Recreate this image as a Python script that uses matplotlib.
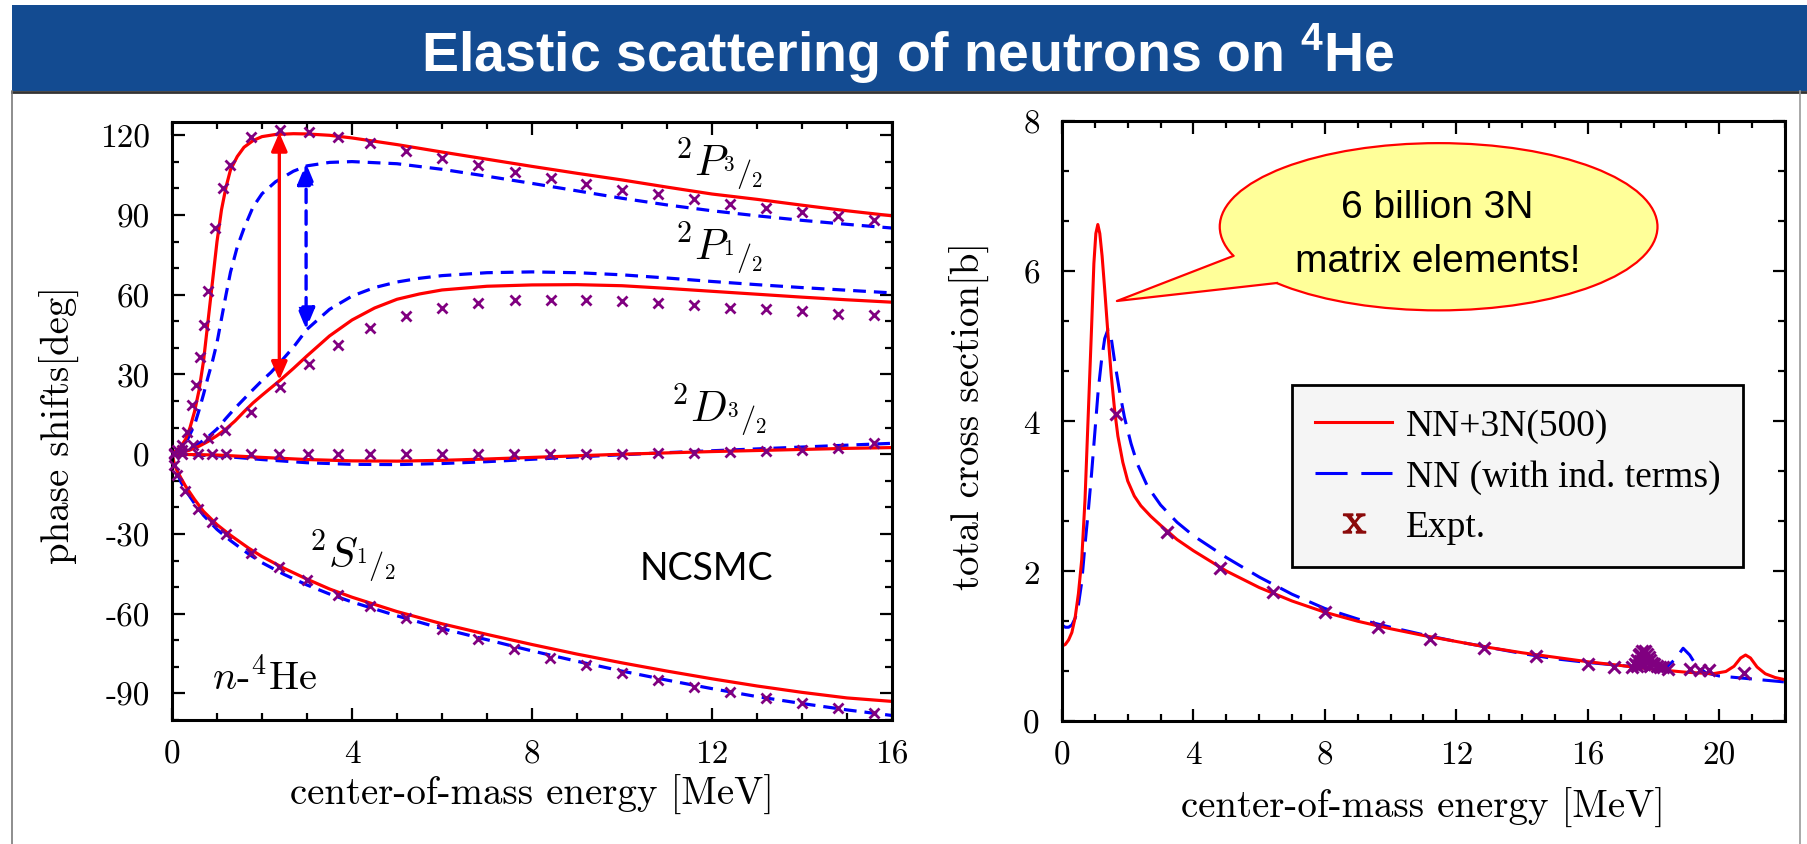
import matplotlib
matplotlib.use("Agg")
import matplotlib.pyplot as plt
from matplotlib.patches import Ellipse, Polygon, Rectangle
from matplotlib.lines import Line2D
from matplotlib.ticker import MultipleLocator, AutoMinorLocator

plt.rcParams["font.family"] = "cmr10"
plt.rcParams["mathtext.fontset"] = "cm"
plt.rcParams["mathtext.rm"] = "Liberation Sans:bold"
plt.rcParams["axes.unicode_minus"] = False
plt.rcParams["axes.formatter.use_mathtext"] = False

# ---------------- left panel: phase shifts [deg] ----------------
E_p32 = [0, 0.2, 0.3, 0.4, 0.5, 0.6, 0.7, 0.8, 0.9, 1.0, 1.1, 1.2, 1.3, 1.45, 1.6, 1.8,
         2.0, 2.3, 2.7, 3.0, 3.5, 4.0, 5, 6, 7, 8, 9, 10, 11, 12, 13, 14, 15, 16]
p32_3n = [0, 3, 5.5, 10, 16, 24, 35, 50, 65, 80, 92, 100.5, 107, 112, 115.5, 118,
          119.5, 120.3, 120.6, 120.5, 120, 119, 116.5, 113.7, 111, 108.3, 105.7, 103.2,
          100.5, 97.9, 95.9, 93.7, 91.6, 89.7]
p32_nn = [0, 2.5, 4, 7.5, 11, 16.5, 22.5, 29, 35, 42, 51, 60, 68.5, 78, 85, 93,
          98, 102.5, 106.5, 108.5, 109.8, 110.1, 109.3, 107.2, 104.6, 101.9, 99.1, 96.3,
          93.8, 91.6, 89.7, 88, 86.5, 85.1]

E_p12 = [0, 0.2, 0.4, 0.6, 0.8, 1.0, 1.2, 1.4, 1.6, 1.8, 2.0, 2.2, 2.4, 2.7, 3.0, 3.5,
         4.0, 4.5, 5.0, 5.5, 6.0, 7, 8, 9, 10, 11, 12, 13, 14, 15, 16]
p12_3n = [0, 0.6, 1.6, 3, 4.8, 7, 9.5, 12.5, 16, 19.3, 22.2, 25, 27.8, 32.3, 37, 44.5,
          50.5, 55, 58.3, 60.3, 61.8, 63.2, 63.7, 63.8, 63.4, 62.4, 61.3, 60.2, 59.1, 58.1, 57.2]
p12_nn = [0, 1, 2.3, 4, 6.5, 9.5, 13.5, 17.3, 20.8, 24.3, 27.7, 30.8, 34.5, 40.3, 47, 54.5,
          59.5, 62.7, 64.8, 66.2, 67.2, 68.3, 68.6, 68.3, 67.5, 66.3, 65, 63.8, 62.7, 61.7, 60.7]

E_d32 = [0, 1, 2, 3, 4, 5, 6, 7, 8, 9, 10, 11, 12, 13, 14, 15, 16]
d32_3n = [0, -0.3, -1.2, -2.0, -2.5, -2.6, -2.3, -1.8, -1.2, -0.6, 0, 0.5, 1.0, 1.4, 1.8, 2.2, 2.5]
d32_nn = [0, -0.6, -2.0, -3.2, -3.8, -3.9, -3.5, -2.8, -1.9, -1.0, -0.2, 0.6, 1.3, 2.0, 2.7, 3.4, 4.1]

E_s12 = [0, 0.05, 0.1, 0.2, 0.3, 0.5, 0.7, 1.0, 1.3, 1.7, 2.0, 2.5, 3.0, 3.5, 4.0,
         5, 6, 7, 8, 9, 10, 11, 12, 13, 14, 15, 16]
s12_3n = [0, -3.5, -5.8, -9, -12, -17, -21.5, -26.5, -30.5, -35.3, -38.5, -43, -47, -50.7,
          -53.8, -59.2, -63.8, -67.8, -71.6, -75.2, -78.5, -81.6, -84.5, -87.2, -89.6, -91.7, -93]
s12_nn = [0, -4, -6.5, -10.5, -13.5, -18.5, -23, -28.3, -32.5, -37.5, -40.8, -45.3, -49.2,
          -52.6, -55.6, -60.8, -65.6, -69.8, -74, -77.9, -81.6, -85, -88.2, -91.2, -93.8,
          -96.2, -98.3]

# phase-shift analysis points
xp32_E = [0.05, 0.12, 0.22, 0.33, 0.44, 0.54, 0.63, 0.72, 0.79, 0.96, 1.13, 1.28, 1.76, 2.41,
          3.04, 3.68, 4.41, 5.21, 6.0, 6.8, 7.63, 8.42, 9.2, 10.0, 10.8, 11.6, 12.4, 13.2,
          14.0, 14.8, 15.6]
xp32 = [0.5, 1.5, 3.5, 8.5, 18.5, 26, 36.6, 48.5, 61.6, 85, 100, 109, 119.5, 122, 121.4,
        119.4, 117, 114, 111.4, 108.8, 106, 104, 101.6, 99.5, 97.9, 96, 94.1, 92.5, 91,
        89.5, 88.25]
xp12_E = [0.23, 0.47, 0.8, 1.17, 1.76, 2.41, 3.04, 3.68, 4.41, 5.21, 6.0, 6.8, 7.63, 8.42,
          9.2, 10.0, 10.8, 11.6, 12.4, 13.2, 14.0, 14.8, 15.6]
xp12 = [1.5, 3.5, 6, 9.1, 16, 25.4, 34, 41, 47.5, 52, 55, 57, 58, 58, 58, 57.6, 56.9, 56,
        55.1, 54.5, 53.7, 52.9, 52.2]
xd32_E = [0.05, 0.23, 0.57, 0.9, 1.19, 1.75, 2.38, 3.03, 3.68, 4.41, 5.2, 6.0, 6.79, 7.6,
          8.4, 9.2, 10.0, 10.8, 11.6, 12.4, 13.2, 14.0, 14.8, 15.6]
xd32 = [0, 0, 0, 0, 0, 0, 0, 0, 0, 0, 0, 0, 0, 0, 0, 0, 0.2, 0.4, 0.6, 0.9, 1.2, 1.6, 2.4, 4.1]
xs12_E = [0.05, 0.11, 0.28, 0.57, 0.9, 1.19, 1.75, 2.38, 3.0, 3.68, 4.4, 5.2, 6.0, 6.8, 7.6,
          8.4, 9.2, 10.0, 10.8, 11.6, 12.4, 13.2, 14.0, 14.8, 15.6]
xs12 = [-4, -8, -13.75, -20.6, -25.6, -30, -37, -42.5, -47.5, -53, -57, -61.6, -65.6, -69.4,
        -73.4, -76.6, -79.4, -82.5, -85, -87.5, -89.6, -91.9, -93.75, -95.6, -97.25]

# ---------------- right panel: total cross section [b] ----------------
E_tot_3n = [0, 0.1, 0.2, 0.3, 0.4, 0.5, 0.6, 0.7, 0.8, 0.9, 0.97, 1.03, 1.09, 1.15, 1.22,
            1.3, 1.4, 1.5, 1.6, 1.7, 1.85, 2.0, 2.2, 2.4, 2.7, 3.0, 3.5, 4.0, 5, 6, 7, 8, 9,
            10, 11, 12, 13, 14, 15, 16, 17, 18, 19, 19.8, 20.2, 20.45, 20.65, 20.8, 20.95,
            21.15, 21.4, 21.7, 22]
tot_3n = [1.0, 1.02, 1.08, 1.18, 1.38, 1.7, 2.15, 2.95, 4.1, 5.25, 6.1, 6.5, 6.62, 6.5, 6.2,
          5.75, 5.15, 4.6, 4.15, 3.8, 3.45, 3.2, 3.0, 2.87, 2.73, 2.61, 2.42, 2.27, 2.0, 1.78,
          1.6, 1.45, 1.33, 1.23, 1.14, 1.06, 0.98, 0.91, 0.85, 0.79, 0.74, 0.69, 0.65, 0.63,
          0.66, 0.73, 0.84, 0.88, 0.84, 0.72, 0.63, 0.58, 0.55]
E_tot_nn = [0, 0.1, 0.2, 0.3, 0.4, 0.5, 0.6, 0.7, 0.8, 0.9, 1.0, 1.1, 1.2, 1.3, 1.4, 1.5,
            1.6, 1.75, 1.9, 2.1, 2.3, 2.6, 3.0, 3.5, 4.0, 5, 6, 7, 8, 9, 10, 11, 12, 13, 14,
            15, 16, 17, 18, 18.4, 18.65, 18.9, 19.1, 19.3, 19.6, 20, 21, 22]
tot_nn = [1.28, 1.25, 1.25, 1.28, 1.37, 1.55, 1.85, 2.35, 2.8, 3.3, 3.85, 4.4, 4.8, 5.1, 5.22,
          5.1, 4.8, 4.4, 4.05, 3.7, 3.42, 3.13, 2.88, 2.65, 2.47, 2.18, 1.92, 1.69, 1.5, 1.36,
          1.25, 1.15, 1.06, 0.98, 0.9, 0.83, 0.78, 0.74, 0.70, 0.72, 0.82, 0.97, 0.88, 0.74,
          0.64, 0.6, 0.56, 0.52]
expt_E = [1.63, 3.2, 4.8, 6.42, 8.0, 9.63, 11.2, 12.83, 14.42, 16.0, 16.8,
          17.35, 17.45, 17.5, 17.55, 17.6, 17.65, 17.7, 17.75, 17.8, 17.85, 17.9, 17.95, 18.0,
          18.1, 18.2, 18.3, 18.45, 17.5, 17.58, 17.62, 17.68, 17.72, 17.78, 17.9,
          19.1, 19.4, 19.7, 20.76]
expt_sig = [4.09, 2.52, 2.04, 1.72, 1.45, 1.25, 1.09, 0.97, 0.87, 0.76, 0.72,
            0.72, 0.76, 0.82, 0.88, 0.9, 0.93, 0.92, 0.94, 0.9, 0.86, 0.82, 0.78, 0.76,
            0.74, 0.72, 0.72, 0.7, 0.73, 0.8, 0.75, 0.84, 0.76, 0.8, 0.74,
            0.69, 0.68, 0.68, 0.64]

RED = "#ff0000"
BLUE = "#0000ff"
PURPLE = "#800080"
BAND = "#134b91"
W, H = 1808, 845

fig = plt.figure(figsize=(W / 100, H / 100), dpi=100)

# slide header and frame
fig.add_artist(Rectangle((11.5 / W, 1 - 92 / H), 1 - 11.5 / W, 86 / H,
                         transform=fig.transFigure, facecolor=BAND, edgecolor="none"))
fig.add_artist(Line2D([11.5 / W, 1], [1 - 93 / H] * 2, color="#333333", lw=2,
                      transform=fig.transFigure))
fig.add_artist(Line2D([11.5 / W] * 2, [0, 1 - 92 / H], color="#7a7a7a", lw=1.2,
                      transform=fig.transFigure))
fig.add_artist(Line2D([1800 / W] * 2, [0, 1 - 92 / H], color="#9a9a9a", lw=1.2,
                      transform=fig.transFigure))
fig.text(908 / W, 1 - 71.7 / H, r"Elastic scattering of neutrons on $^4$He", ha="center",
         va="baseline", color="white", fontsize=40, fontweight="bold",
         family="Liberation Sans", math_fontfamily="custom")


def style(ax, xpad, ypad):
    ax.tick_params(which="both", direction="in", top=True, right=True, width=1.6,
                   labelsize=24)
    ax.tick_params(which="major", length=9)
    ax.tick_params(which="minor", length=5)
    ax.tick_params(axis="x", pad=xpad)
    ax.tick_params(axis="y", pad=ypad)
    for s in ax.spines.values():
        s.set_linewidth(2.2)


# ---- left ----
ax1 = fig.add_axes([172 / W, 1 - 721 / H, 720 / W, 598 / H])
lw = 2.3
dash = (4, 2.5)
ax1.plot(E_p32, p32_nn, color=BLUE, lw=lw, dashes=dash)
ax1.plot(E_p12, p12_nn, color=BLUE, lw=lw, dashes=dash)
ax1.plot(E_d32, d32_nn, color=BLUE, lw=lw, dashes=dash)
ax1.plot(E_s12, s12_nn, color=BLUE, lw=lw, dashes=dash)
ax1.plot(E_p32, p32_3n, color=RED, lw=lw)
ax1.plot(E_p12, p12_3n, color=RED, lw=lw)
ax1.plot(E_d32, d32_3n, color=RED, lw=lw)
ax1.plot(E_s12, s12_3n, color=RED, lw=lw)
for ex, ey in [(xp32_E, xp32), (xp12_E, xp12), (xd32_E, xd32), (xs12_E, xs12)]:
    ax1.plot(ex, ey, ls="none", marker="x", ms=7.5, mew=2, color=PURPLE, zorder=4,
             clip_on=False)

ax1.annotate("", xy=(2.385, 27.9), xytext=(2.385, 121),
             arrowprops=dict(arrowstyle="<|-|>,head_length=0.55,head_width=0.24",
                             mutation_scale=20, color=RED, lw=2.4, shrinkA=0, shrinkB=0))
ax1.annotate("", xy=(2.98, 47), xytext=(2.98, 109.5),
             arrowprops=dict(arrowstyle="<|-|>,head_length=0.65,head_width=0.27",
                             mutation_scale=20, color=BLUE, lw=2.4, ls=(0, (4, 2.5)),
                             shrinkA=0, shrinkB=0))

ax1.text(11.18, 98.5, r"$^2P_{{}^3/_2}$", fontsize=31, va="bottom")
ax1.text(11.18, 67.2, r"$^2P_{{}^1/_2}$", fontsize=31, va="bottom")
ax1.text(11.1, 6.0, r"$^2D_{{}^3/_2}$", fontsize=31, va="bottom")
ax1.text(3.04, -49, r"$^2S_{{}^1/_2}$", fontsize=31, va="bottom")
ax1.text(0.88, -88.4, r"$n$-$^4$He", fontsize=29, va="baseline")
ax1.text(10.4, -47.1, "NCSMC", fontsize=27, va="baseline", family="Lato")

ax1.set_xlim(0, 16)
ax1.set_ylim(-100, 125)
ax1.xaxis.set_major_locator(MultipleLocator(4))
ax1.xaxis.set_minor_locator(AutoMinorLocator(4))
ax1.yaxis.set_major_locator(MultipleLocator(30))
ax1.yaxis.set_minor_locator(AutoMinorLocator(3))
style(ax1, 14, 16)
ax1.set_xlabel("center-of-mass energy [MeV]", fontsize=28)
ax1.set_ylabel("phase shifts[deg]", fontsize=28)
ax1.xaxis.set_label_coords(0.5, -0.09)
ax1.yaxis.set_label_coords(-0.128, 0.495)

# ---- right ----
ax2 = fig.add_axes([1062 / W, 1 - 722 / H, 723 / W, 600 / H])
ax2.plot(E_tot_nn, tot_nn, color=BLUE, lw=2.2, dashes=(7, 3.5))
ax2.plot(E_tot_3n, tot_3n, color=RED, lw=2.2)
ax2.plot(expt_E, expt_sig, ls="none", marker="x", ms=8, mew=2.2, color=PURPLE, zorder=4)

# speech balloon
ax2.add_patch(Ellipse((11.46, 6.59), 13.32, 2.23, facecolor="#ffff99", edgecolor=RED,
                      lw=1.6, zorder=6))
tip, b1, b2 = (1.67, 5.60), (5.21, 6.20), (6.54, 5.84)
ax2.add_patch(Polygon([tip, b1, (8.0, 6.4), b2], closed=True, facecolor="#ffff99",
                      edgecolor="none", zorder=7))
ax2.plot([b1[0], tip[0], b2[0]], [b1[1], tip[1], b2[1]], color=RED, lw=1.6, zorder=8)
ax2.text(11.43, 6.72, "6 billion 3N", fontsize=28, ha="center", va="baseline",
         family="Liberation Sans", zorder=9)
ax2.text(11.43, 6.0, "matrix elements!", fontsize=28, ha="center", va="baseline",
         family="Liberation Sans", zorder=9)

ax2.set_xlim(0, 22)
ax2.set_ylim(0, 8)
ax2.xaxis.set_major_locator(MultipleLocator(4))
ax2.xaxis.set_minor_locator(AutoMinorLocator(4))
ax2.yaxis.set_major_locator(MultipleLocator(2))
ax2.yaxis.set_minor_locator(AutoMinorLocator(3))
style(ax2, 14, 16)
ax2.set_xlabel("center-of-mass energy [MeV]", fontsize=28)
ax2.set_ylabel("total cross section[b]", fontsize=28)
ax2.xaxis.set_label_coords(0.5, -0.11)
ax2.yaxis.set_label_coords(-0.10, 0.51)

handles = [Line2D([], [], color=RED, lw=2.2),
           Line2D([], [], color=BLUE, lw=2.2, dashes=(10.5, 4.5)),
           Line2D([], [], ls="none", marker=r"$\mathrm{x}$", ms=16, color="#8b0a0a")]
leg = ax2.legend(handles, ["NN+3N(500)", "NN (with ind. terms)", "Expt."],
                 loc="upper left", bbox_to_anchor=(0.318, 0.56), borderaxespad=0,
                 prop={"family": "Liberation Serif", "size": 27}, handlelength=2.05,
                 handletextpad=0.36, borderpad=0.62, labelspacing=0.42, fancybox=False,
                 framealpha=1, facecolor="#f5f5f5", edgecolor="black")
leg.get_frame().set_linewidth(2)
leg.set_zorder(10)

fig.savefig("out.png", dpi=100)
